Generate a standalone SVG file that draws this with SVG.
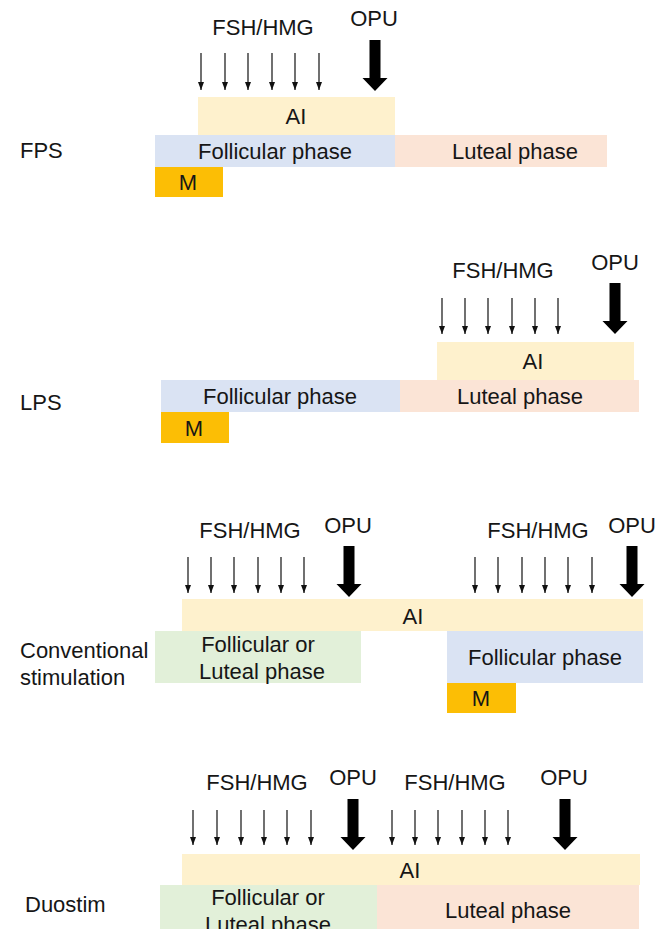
<svg xmlns="http://www.w3.org/2000/svg" width="668" height="929" viewBox="0 0 668 929">
  <defs>
    <style>
      text { font-family: "Liberation Sans", Arial, sans-serif; font-size: 22px; fill: #161616; }
      .mid { text-anchor: middle; }
      .ai { fill: #FEF1CD; }
      .fol { fill: #DAE3F3; }
      .lut { fill: #FBE4D6; }
      .mix { fill: #E2F0D9; }
      .m { fill: #FCBE05; }
      .inj { stroke: #111; stroke-width: 1.2; fill: none; marker-end: url(#head); }
    </style>
    <marker id="head" markerUnits="userSpaceOnUse" markerWidth="9" markerHeight="7" refX="8" refY="3" orient="auto">
      <path d="M0,0 L8,3 L0,6 z" fill="#111"/>
    </marker>
    <!-- bold retrieval arrow, tip at origin -->
    <polygon id="opu" points="-5.5,-51 5.5,-51 5.5,-13 12.5,-13 0,0 -12.5,-13 -5.5,-13" fill="#000"/>
  </defs>

  <rect width="668" height="929" fill="#fff"/>

  <!-- FPS -->
  <g id="fps">
    <text x="20" y="158">FPS</text>
    <g id="fps-ai"><rect class="ai" x="198" y="97" width="197" height="38"/><text class="mid" x="296" y="124">AI</text></g>
    <g id="fps-fol"><rect class="fol" x="155" y="135" width="240" height="32"/><text class="mid" x="275" y="159">Follicular phase</text></g>
    <g id="fps-lut"><rect class="lut" x="395" y="135" width="212" height="32"/><text class="mid" x="515" y="159">Luteal phase</text></g>
    <g id="fps-m"><rect class="m" x="155" y="167" width="68" height="30"/><text class="mid" x="188" y="190">M</text></g>
    <text class="mid" x="263" y="35">FSH/HMG</text>
    <text class="mid" x="374" y="26">OPU</text>
  </g>

  <!-- LPS -->
  <g id="lps">
    <text x="20" y="410">LPS</text>
    <g id="lps-ai"><rect class="ai" x="437" y="342" width="197" height="38"/><text class="mid" x="533" y="369">AI</text></g>
    <g id="lps-fol"><rect class="fol" x="161" y="380" width="239" height="32"/><text class="mid" x="280" y="404">Follicular phase</text></g>
    <g id="lps-lut"><rect class="lut" x="400" y="380" width="239" height="32"/><text class="mid" x="520" y="404">Luteal phase</text></g>
    <g id="lps-m"><rect class="m" x="161" y="412" width="68" height="31"/><text class="mid" x="194" y="436">M</text></g>
    <text class="mid" x="503" y="278">FSH/HMG</text>
    <text class="mid" x="615" y="270">OPU</text>
  </g>

  <!-- Conventional stimulation -->
  <g id="conv">
    <text x="20" y="658">Conventional</text>
    <text x="20" y="685">stimulation</text>
    <g id="conv-ai"><rect class="ai" x="182" y="599" width="461" height="32"/><text class="mid" x="413" y="624">AI</text></g>
    <g id="conv-first"><rect class="mix" x="155" y="631" width="206" height="52"/><text class="mid" x="258" y="652">Follicular or</text><text class="mid" x="262" y="679">Luteal phase</text></g>
    <g id="conv-fol"><rect class="fol" x="447" y="631" width="196" height="52"/><text class="mid" x="545" y="665">Follicular phase</text></g>
    <g id="conv-m"><rect class="m" x="447" y="683" width="69" height="30"/><text class="mid" x="481" y="706">M</text></g>
    <text class="mid" x="250" y="538">FSH/HMG</text>
    <text class="mid" x="348" y="533">OPU</text>
    <text class="mid" x="538" y="538">FSH/HMG</text>
    <text class="mid" x="632" y="533">OPU</text>
  </g>

  <!-- Duostim -->
  <g id="duo">
    <text x="25" y="912">Duostim</text>
    <g id="duo-ai"><rect class="ai" x="182" y="854" width="458" height="31"/><text class="mid" x="410" y="878">AI</text></g>
    <g id="duo-first"><rect class="mix" x="160" y="885" width="217" height="44"/><text class="mid" x="268" y="905">Follicular or</text><text class="mid" x="268" y="932">Luteal phase</text></g>
    <g id="duo-lut"><rect class="lut" x="377" y="885" width="262" height="44"/><text class="mid" x="508" y="918">Luteal phase</text></g>
    <text class="mid" x="257" y="790">FSH/HMG</text>
    <text class="mid" x="353" y="785">OPU</text>
    <text class="mid" x="455" y="790">FSH/HMG</text>
    <text class="mid" x="564" y="785">OPU</text>
  </g>

  <!-- injection and retrieval arrows -->
  <g id="connectors">
    <!-- FPS -->
    <line class="inj" x1="201" y1="53" x2="201" y2="90"/>
    <line class="inj" x1="225" y1="53" x2="225" y2="90"/>
    <line class="inj" x1="248" y1="53" x2="248" y2="90"/>
    <line class="inj" x1="272" y1="53" x2="272" y2="90"/>
    <line class="inj" x1="295" y1="53" x2="295" y2="90"/>
    <line class="inj" x1="319" y1="53" x2="319" y2="90"/>
    <use href="#opu" x="375" y="91"/>
    <!-- LPS -->
    <line class="inj" x1="442" y1="298" x2="442" y2="334"/>
    <line class="inj" x1="465" y1="298" x2="465" y2="334"/>
    <line class="inj" x1="488" y1="298" x2="488" y2="334"/>
    <line class="inj" x1="512" y1="298" x2="512" y2="334"/>
    <line class="inj" x1="535" y1="298" x2="535" y2="334"/>
    <line class="inj" x1="558" y1="298" x2="558" y2="334"/>
    <use href="#opu" x="615" y="334"/>
    <!-- Conventional -->
    <line class="inj" x1="188" y1="557" x2="188" y2="593"/>
    <line class="inj" x1="211" y1="557" x2="211" y2="593"/>
    <line class="inj" x1="234" y1="557" x2="234" y2="593"/>
    <line class="inj" x1="258" y1="557" x2="258" y2="593"/>
    <line class="inj" x1="281" y1="557" x2="281" y2="593"/>
    <line class="inj" x1="304" y1="557" x2="304" y2="593"/>
    <use href="#opu" x="349" y="597"/>
    <line class="inj" x1="475" y1="557" x2="475" y2="593"/>
    <line class="inj" x1="498" y1="557" x2="498" y2="593"/>
    <line class="inj" x1="522" y1="557" x2="522" y2="593"/>
    <line class="inj" x1="545" y1="557" x2="545" y2="593"/>
    <line class="inj" x1="568" y1="557" x2="568" y2="593"/>
    <line class="inj" x1="592" y1="557" x2="592" y2="593"/>
    <use href="#opu" x="632" y="597"/>
    <!-- Duostim -->
    <line class="inj" x1="193" y1="810" x2="193" y2="845"/>
    <line class="inj" x1="217" y1="810" x2="217" y2="845"/>
    <line class="inj" x1="241" y1="810" x2="241" y2="845"/>
    <line class="inj" x1="264" y1="810" x2="264" y2="845"/>
    <line class="inj" x1="287" y1="810" x2="287" y2="845"/>
    <line class="inj" x1="311" y1="810" x2="311" y2="845"/>
    <use href="#opu" x="353" y="850"/>
    <line class="inj" x1="392" y1="810" x2="392" y2="845"/>
    <line class="inj" x1="415" y1="810" x2="415" y2="845"/>
    <line class="inj" x1="438" y1="810" x2="438" y2="845"/>
    <line class="inj" x1="462" y1="810" x2="462" y2="845"/>
    <line class="inj" x1="485" y1="810" x2="485" y2="845"/>
    <line class="inj" x1="508" y1="810" x2="508" y2="845"/>
    <use href="#opu" x="565" y="850"/>
  </g>
</svg>
